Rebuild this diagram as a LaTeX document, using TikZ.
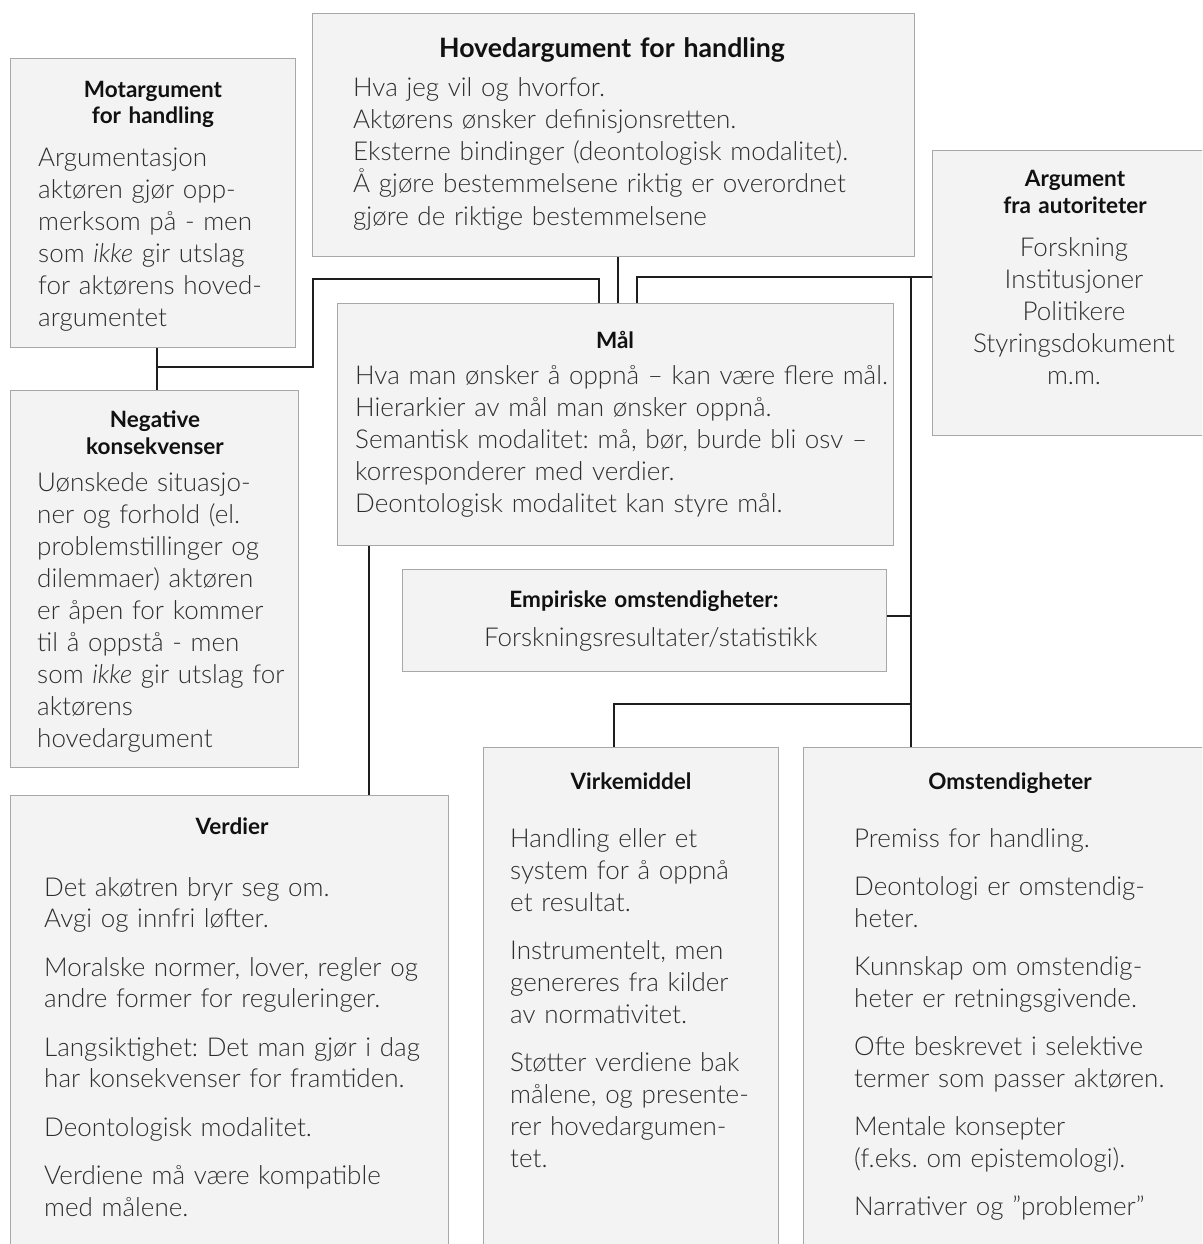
\documentclass[tikz,border=0pt]{standalone}
\usepackage{fontspec}
\setmainfont{Lato}[UprightFont={* Light}, ItalicFont={* Light Italic}, BoldFont={* Bold}, BoldItalicFont={* Bold Italic}]
\definecolor{boxfill}{HTML}{F3F3F3}
\definecolor{boxline}{HTML}{A8A8A8}
\definecolor{bodytext}{HTML}{2E2E2E}
\definecolor{titletext}{HTML}{111111}
\definecolor{connline}{HTML}{1E1E1E}
\frenchspacing
\begin{document}
\begin{tikzpicture}[x=1pt,y=-1pt,
  box/.style={draw=boxline, fill=boxfill, line width=1.3pt, anchor=north west, inner sep=0pt},
  conn/.style={draw=connline, line width=2.6pt},
  bodyl/.style={font=\fontsize{26}{32}\selectfont\frenchspacing, text=bodytext, align=left, text width=700pt, inner sep=0pt, anchor=base west},
  bodyc/.style={font=\fontsize{26}{32}\selectfont, text=bodytext, align=center, text width=320pt, inner sep=0pt, anchor=base},
  ttl/.style={font=\fontsize{22.5}{26.5}\selectfont\bfseries, text=titletext, align=center, text width=320pt, inner sep=0pt, anchor=base},
  bigttl/.style={font=\fontsize{26.7}{30}\selectfont\bfseries, text=titletext, align=center, text width=560pt, inner sep=0pt, anchor=base}
]
\useasboundingbox (0,0) rectangle (1202,1244);
\clip (0,0) rectangle (1202,1244);
\fill[white] (0,0) rectangle (1202,1244);

% ---- named x positions for connectors
\coordinate (xa) at (618,0);
\coordinate (xb) at (157,0);
\coordinate (xc) at (599,0);
\coordinate (xd) at (637,0);
\coordinate (xe) at (911,0);
\coordinate (xf) at (614,0);
\coordinate (xg) at (369,0);
\coordinate (j1) at (157,367);
\coordinate (k1) at (313,279);
\coordinate (r1) at (932,277);
\coordinate (r2) at (911,277);
\coordinate (r3) at (911,616);
\coordinate (r4) at (911,704);

% ---- connectors
\draw[conn] (618,256) -- (618,303);
\draw[conn] (157,346) -- (157,390);
\draw[conn] (j1) -| (k1) -| (599,303);
\draw[conn] (r1) -| (637,303);
\draw[conn] (r2) -- (911,747);
\draw[conn] (885,616) -- (r3);
\draw[conn] (r4) -| (614,747);
\draw[conn] (369,545) -- (369,795);

% ---- boxes (geometry)
\node[box, minimum width=602pt, minimum height=243pt] (hoved) at (312,13) {};
\node[box, minimum width=285pt, minimum height=289pt] (mot) at (10,58) {};
\node[box, minimum width=290pt, minimum height=285pt] (arg) at (932,150) {};
\node[box, minimum width=556pt, minimum height=242pt] (maal) at (337,303) {};
\node[box, minimum width=288pt, minimum height=377pt] (neg) at (10,390) {};
\node[box, minimum width=484pt, minimum height=102pt] (emp) at (402,569) {};
\node[box, minimum width=438pt, minimum height=470pt] (verd) at (10,795) {};
\node[box, minimum width=295pt, minimum height=520pt] (virk) at (483,747) {};
\node[box, minimum width=420pt, minimum height=520pt] (omst) at (803,747) {};

% ---- texts
\node[bigttl] (hovedT) at (612,58) {Hovedargument for handling};
\node[bodyl] (hovedB) at (353,97) {Hva jeg vil og hvorfor.\\
Aktørens ønsker definisjonsretten.\\
Eksterne bindinger (deontologisk modalitet).\\
Å gjøre bestemmelsene riktig er overordnet\\
gjøre de riktige bestemmelsene};

\node[ttl] (motT) at (153,97.5) {Motargument\\for handling};
\node[bodyl] (motB) at (38,166) {Argumentasjon\\
aktøren gjør opp-\\
merksom på - men\\
som \textit{ikke} gir utslag\\
for aktørens hoved-\\
argumentet};

\node[ttl] (argT) at (1075,186.5) {Argument\\fra autoriteter};
\node[bodyc] (argB) at (1074,256) {Forskning\\Institusjoner\\Politikere\\Styringsdokument\\m.m.};

\node[ttl] (maalT) at (615,348) {Mål};
\node[bodyl] (maalB) at (355,384) {Hva man ønsker å oppnå – kan være flere mål.\\
Hierarkier av mål man ønsker oppnå.\\
Semantisk modalitet: må, bør, burde bli osv –\\
korresponderer med verdier.\\
Deontologisk modalitet kan styre mål.};

\node[ttl] (negT) at (155,427.5) {Negative\\konsekvenser};
\node[bodyl] (negB) at (37,491) {Uønskede situasjo-\\
ner og forhold (el.\\
problemstillinger og\\
dilemmaer) aktøren\\
er åpen for kommer\\
til å oppstå - men\\
som \textit{ikke} gir utslag for\\
aktørens\\
hovedargument};

\node[ttl] (empT) at (644,607.5) {Empiriske omstendigheter:};
\node[bodyc] (empB) at (644,646) {Forskningsresultater/statistikk};

\node[ttl] (verdT) at (232,834.5) {Verdier};
\node[bodyl, font=\fontsize{26}{31.5}\selectfont] (verdB) at (44,896) {Det akøtren bryr seg om.\\
Avgi og innfri løfter.\\[17pt]
Moralske normer, lover, regler og\\
andre former for reguleringer.\\[17pt]
Langsiktighet: Det man gjør i dag\\
har konsekvenser for framtiden.\\[17pt]
Deontologisk modalitet.\\[17pt]
Verdiene må være kompatible\\
med målene.};

\node[ttl] (virkT) at (631,789.5) {Virkemiddel};
\node[bodyl] (virkB) at (510,847) {Handling eller et\\
system for å oppnå\\
et resultat.\\[16pt]
Instrumentelt, men\\
genereres fra kilder\\
av normativitet.\\[16pt]
Støtter verdiene bak\\
målene, og presente-\\
rer hovedargumen-\\
tet.};

\node[ttl] (omstT) at (1010,789.5) {Omstendigheter};
\node[bodyl] (omstB) at (854,847) {Premiss for handling.\\[16pt]
Deontologi er omstendig-\\
heter.\\[16pt]
Kunnskap om omstendig-\\
heter er retningsgivende.\\[16pt]
Ofte beskrevet i selektive\\
termer som passer aktøren.\\[16pt]
Mentale konsepter\\
(f.eks. om epistemologi).\\[16pt]
Narrativer og ”problemer”};
\end{tikzpicture}
\end{document}
